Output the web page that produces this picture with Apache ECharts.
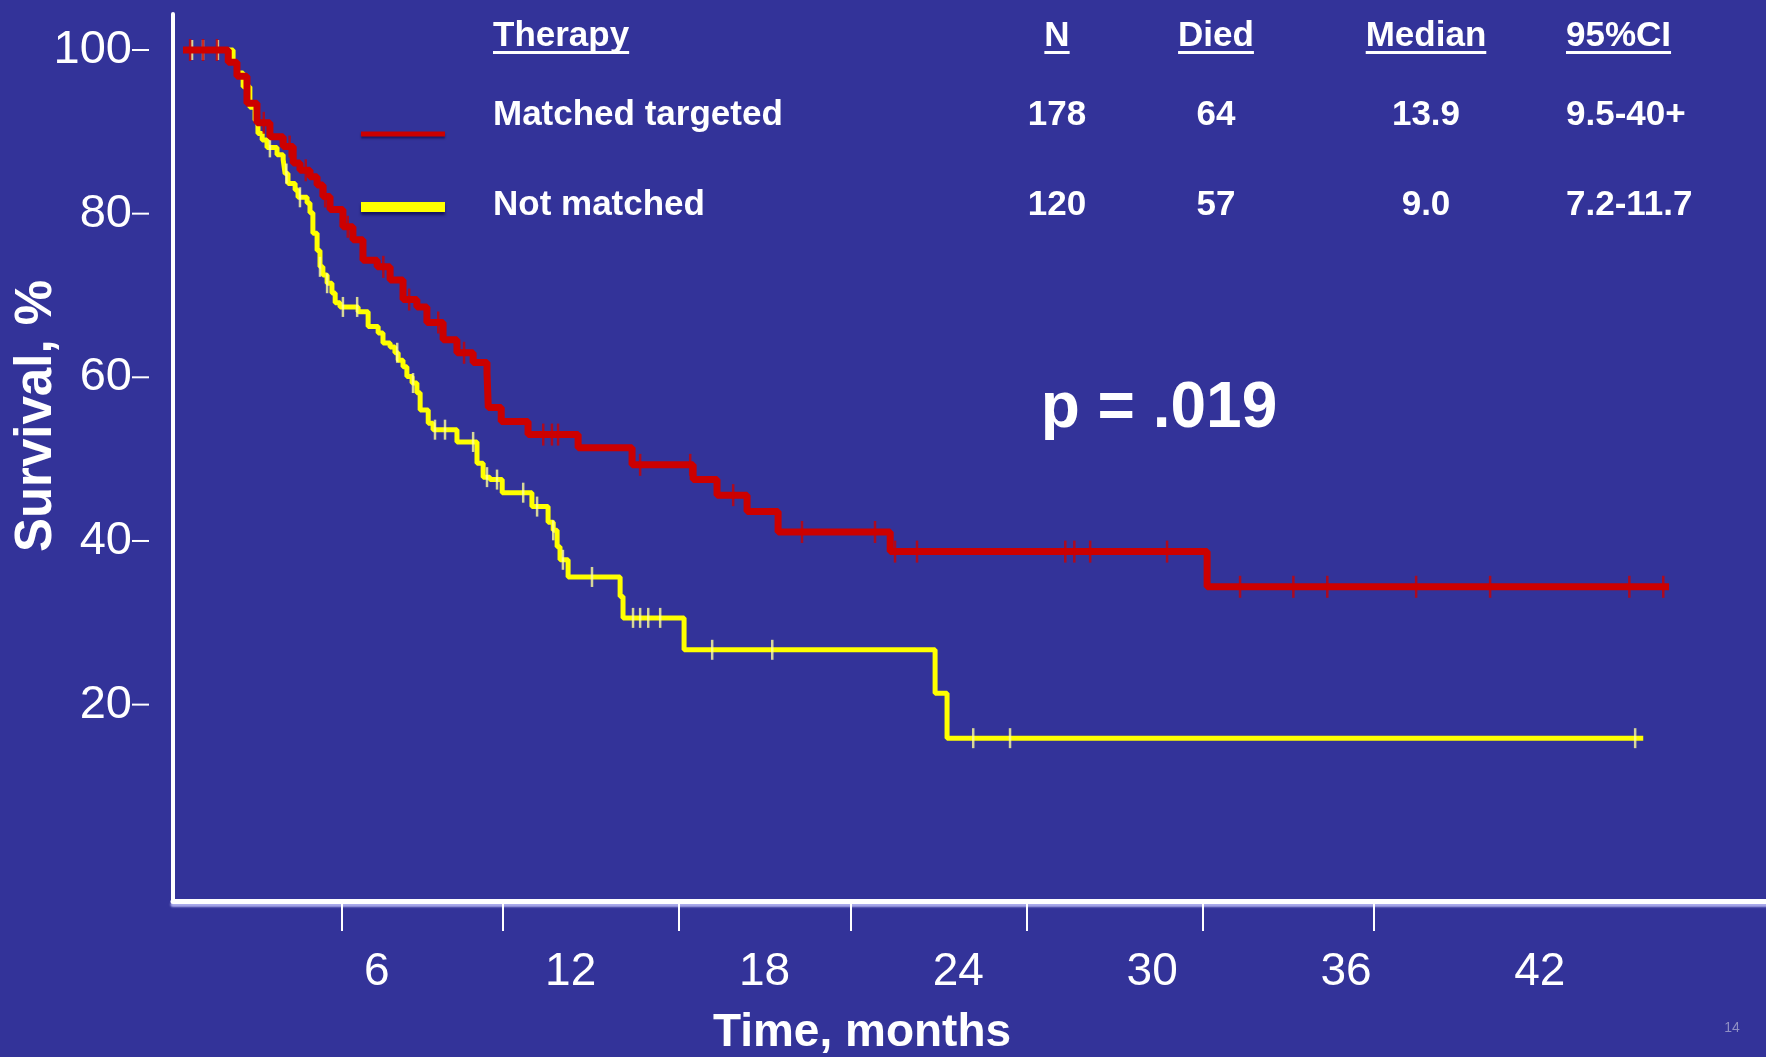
<!DOCTYPE html>
<html><head><meta charset="utf-8">
<script src="https://cdn.jsdelivr.net/npm/echarts@6/dist/echarts.min.js"></script>
<style>html,body{margin:0;padding:0;background:#333399;overflow:hidden}#c{width:1766px;height:1057px}</style>
</head><body><div id="c"></div>
<script>
// ---------- data ----------
const xLabelValues = [6, 12, 18, 24, 30, 36, 42];
const xTickValues = [4.92, 9.91, 15.33, 20.68, 26.13, 31.55, 36.87];
const yLabelValues = [20, 40, 60, 80, 100];

// Kaplan-Meier steps [month, survival %] (value after the drop at that month)
const matchedSteps = [[0,100],[1.40,98.5],[1.67,96.8],[1.98,93.5],[2.29,91.1],[2.69,89.4],[3.10,88.2],[3.41,86.2],[3.62,85.3],[3.93,84.5],[4.15,83.5],[4.33,82.1],[4.55,80.5],[4.95,78.4],[5.26,76.8],[5.57,74.3],[6.01,73.5],[6.41,71.9],[6.81,69.5],[7.24,68.6],[7.55,66.7],[8.05,64.6],[8.48,63.0],[8.98,61.8],[9.41,60.5],[9.45,56.3],[9.85,54.6],[10.68,53.0],[12.23,51.4],[13.90,49.3],[15.79,47.5],[16.53,45.6],[17.46,43.6],[18.42,41.1],[21.89,38.7],[31.70,34.4],[46.0,34.4]];
const notMatchedSteps = [[0,100],[1.55,98.5],[1.67,97.2],[1.86,95.5],[2.07,93.0],[2.23,91.4],[2.32,89.8],[2.45,89.0],[2.60,88.1],[2.91,87.2],[3.10,86.6],[3.16,84.9],[3.25,83.7],[3.47,82.9],[3.56,82.0],[3.84,81.3],[3.93,80.1],[4.02,77.6],[4.15,75.5],[4.24,73.5],[4.33,72.5],[4.46,71.5],[4.61,70.3],[4.71,69.1],[4.86,68.6],[5.42,68.0],[5.73,66.2],[6.04,65.4],[6.19,64.2],[6.41,63.7],[6.56,63.0],[6.66,62.1],[6.81,61.3],[6.93,60.1],[7.09,59.3],[7.24,58.1],[7.34,56.0],[7.59,54.4],[7.74,53.6],[8.48,52.1],[9.10,49.5],[9.29,47.8],[9.50,47.5],[9.88,45.9],[10.80,44.2],[11.30,42.3],[11.46,41.3],[11.58,39.3],[11.67,37.7],[11.92,35.6],[13.53,33.2],[13.62,30.6],[15.51,26.7],[23.28,21.4],[23.65,15.9],[45.2,15.9]];

// censoring times (months)
const matchedCensor = [0.22,0.62,1.05,2.5,3.3,3.8,4.4,5.1,6.2,7.0,7.9,8.7,11.15,11.42,11.61,14.15,15.7,17.03,19.16,21.42,22.04,22.72,27.31,27.59,28.08,30.46,32.72,34.37,35.42,38.17,40.46,44.77,45.82];
const notMatchedCensor = [0.28,0.62,1.08,1.98,2.69,3.20,3.62,4.24,4.46,4.95,5.39,6.63,7.12,7.80,8.11,8.98,9.41,9.72,10.53,10.96,11.46,11.76,12.66,13.93,14.15,14.40,14.77,16.38,18.24,24.46,25.60,44.95];

const tableHeader = ['Therapy', 'N', 'Died', 'Median', '95%CI'];
const rowMatched = ['Matched targeted', '178', '64', '13.9', '9.5-40+'];
const rowNotMatched = ['Not matched', '120', '57', '9.0', '7.2-11.7'];
const pValueText = 'p = .019';
const xTitle = 'Time, months';
const yTitle = 'Survival, %';
const pageNo = '14';

// ---------- fonts ----------
const mctx = document.createElement('canvas').getContext('2d');
function tw(font, t) { mctx.font = font; return mctx.measureText(t).width; }
const hasNarrow = tw('40px "Liberation Sans Narrow", monospace', 'Matched 0123') !== tw('40px monospace', 'Matched 0123');
const NARROW = hasNarrow ? '"Liberation Sans Narrow"' : '"Liberation Sans"';
const NS = hasNarrow ? 1 : 0.84;
const REG = '"Liberation Sans", Arial, sans-serif';
const yLabelSize = hasNarrow ? 49 : 47;

function surv(steps, t) {
  let v = steps[0][1];
  for (const s of steps) { if (s[0] <= t) v = s[1]; else break; }
  return v;
}

const WHITE = '#ffffff', RED = '#CC0000', YEL = '#FFFF00';

// ---------- table graphics ----------
const colX = [493, 1057, 1216, 1426, 1566];
const colAlign = ['left', 'center', 'center', 'center', 'left'];
const rowY = [36, 115, 205];
const tFontSize = Math.round(42 * NS);
const tFont = 'bold ' + tFontSize + 'px ' + NARROW;
const graphics = [];
[tableHeader, rowMatched, rowNotMatched].forEach((row, ri) => {
  row.forEach((txt, ci) => {
    graphics.push({ type: 'text', x: colX[ci], y: rowY[ri], silent: true,
      style: { text: txt, font: tFont, fill: WHITE, align: colAlign[ci], verticalAlign: 'middle' } });
    if (ri === 0) {
      const w = tw(tFont, txt);
      const x0 = colAlign[ci] === 'center' ? colX[ci] - w / 2 : colX[ci];
      graphics.push({ type: 'rect', silent: true, shape: { x: x0, y: 51, width: w, height: 3 }, style: { fill: WHITE } });
    }
  });
});
// legend swatches
graphics.push({ type: 'line', silent: true, shape: { x1: 361, y1: 134, x2: 445, y2: 134 },
  style: { stroke: RED, lineWidth: 5, shadowColor: 'rgba(0,0,60,0.5)', shadowOffsetY: 2, shadowBlur: 2 } });
graphics.push({ type: 'line', silent: true, shape: { x1: 361, y1: 207, x2: 445, y2: 207 },
  style: { stroke: YEL, lineWidth: 10, shadowColor: 'rgba(0,0,60,0.6)', shadowOffsetY: 3, shadowBlur: 3 } });
// p value
graphics.push({ type: 'text', x: 1159, y: 409, silent: true,
  style: { text: pValueText, font: 'bold 64px ' + REG, fill: WHITE, align: 'center', verticalAlign: 'middle' } });
// axis titles
graphics.push({ type: 'text', x: 862, y: 1033, silent: true,
  style: { text: xTitle, font: 'bold ' + Math.round(55 * NS) + 'px ' + NARROW, fill: WHITE, align: 'center', verticalAlign: 'middle' } });
graphics.push({ type: 'text', x: 37, y: 416, rotation: Math.PI / 2, silent: true,
  style: { text: yTitle, font: 'bold 51px ' + REG, fill: WHITE, align: 'center', verticalAlign: 'middle' } });
graphics.push({ type: 'text', x: 1732, y: 1028, silent: true,
  style: { text: pageNo, font: '14px ' + REG, fill: '#8f8fc4', align: 'center', verticalAlign: 'middle' } });

// ---------- chart ----------
const chart = echarts.init(document.getElementById('c'), null, { renderer: 'canvas' });
chart.setOption({
  backgroundColor: '#333399',
  animation: false,
  grid: { left: 173, right: 0, top: 14, bottom: 156, containLabel: false },
  xAxis: {
    type: 'value', min: -0.31, max: 49.0,
    splitLine: { show: false },
    axisLine: { show: true, onZero: false, lineStyle: { color: WHITE, width: 5, shadowColor: 'rgba(200,200,255,0.8)', shadowOffsetY: 3, shadowBlur: 2 } },
    axisTick: { show: true, customValues: xTickValues, length: 30, lineStyle: { color: WHITE, width: 2 } },
    axisLabel: { customValues: xLabelValues, color: WHITE, fontFamily: NARROW, fontSize: Math.round(55 * NS), margin: 48 }
  },
  yAxis: {
    type: 'value', min: -4, max: 104.4,
    splitLine: { show: false },
    axisLine: { show: true, onZero: false, lineStyle: { color: WHITE, width: 4 } },
    axisTick: { show: false },
    axisLabel: {
      customValues: yLabelValues, margin: 24,
      formatter: v => '{v|' + v + '}{d|}',
      rich: {
        v: { color: WHITE, fontFamily: NARROW, fontSize: yLabelSize },
        d: { width: 17, height: 2, backgroundColor: WHITE }
      }
    }
  },
  series: [
    { type: 'line', name: 'Not matched', data: notMatchedSteps, step: 'end', showSymbol: false, silent: true,
      lineStyle: { color: YEL, width: 5 }, z: 2 },
    { type: 'scatter', name: 'Not matched censored', data: notMatchedCensor.map(t => [t, surv(notMatchedSteps, t)]),
      symbol: 'rect', symbolSize: [2.5, 20], itemStyle: { color: '#FFFF99' }, silent: true, z: 3 },
    { type: 'line', name: 'Matched targeted', data: matchedSteps, step: 'end', showSymbol: false, silent: true,
      lineStyle: { color: RED, width: 7 }, z: 4 },
    { type: 'scatter', name: 'Matched censored', data: matchedCensor.map(t => [t, surv(matchedSteps, t)]),
      symbol: 'rect', symbolSize: [2.5, 22], itemStyle: { color: RED }, silent: true, z: 5 }
  ],
  graphic: graphics
});
</script></body></html>
